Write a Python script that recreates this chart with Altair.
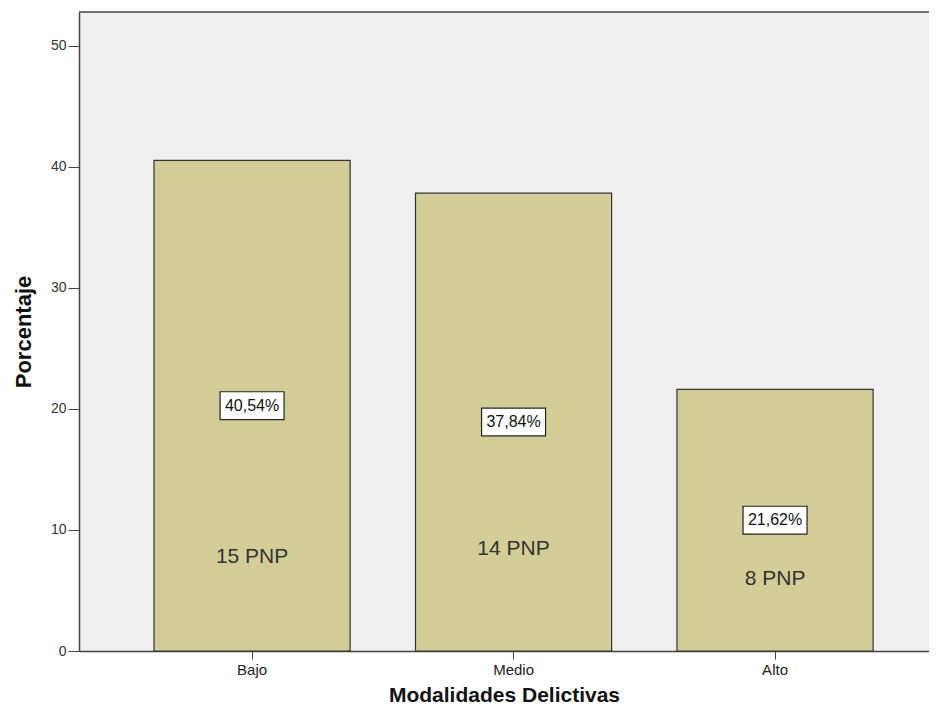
import altair as alt
import pandas as pd

categories = ["Bajo", "Medio", "Alto"]
percentages = [40.54, 37.84, 21.62]
pct_labels = ["40,54%", "37,84%", "21,62%"]
pnp_labels = ["15 PNP", "14 PNP", "8 PNP"]
pnp_label_y = [7.8, 8.4, 5.95]
y_ticks = [0, 10, 20, 30, 40, 50]

df = pd.DataFrame({
    "cat": categories,
    "pct": percentages,
    "pct_label": pct_labels,
    "pnp": pnp_labels,
    "pnp_y": pnp_label_y,
})
df["mid"] = df["pct"] / 2
df["box_lo"] = df["mid"] - 1.15
df["box_hi"] = df["mid"] + 1.15

FONT = "Liberation Sans"
W = 850
H = 639

x_enc = alt.X(
    "cat:N",
    sort=categories,
    title="Modalidades Delictivas",
    scale=alt.Scale(paddingInner=0.25, paddingOuter=0.2503, align=0.573),
    axis=alt.Axis(
        labelAngle=0, labelFont=FONT, labelFontSize=15, labelColor="#222",
        titleFont=FONT, titleFontSize=21, titleFontWeight="bold", titleColor="#111",
        titlePadding=7, domainColor="#444", domainWidth=1.5, tickColor="#444",
        tickSize=8, labelPadding=3,
    ),
)
y_scale = alt.Scale(domain=[0, 52.8], nice=False, zero=True)

base = alt.Chart(df)

bars = base.mark_bar(fill="#D3CE97", stroke="#333", strokeWidth=1.2).encode(
    x=x_enc,
    y=alt.Y(
        "pct:Q",
        scale=y_scale,
        title="Porcentaje",
        axis=alt.Axis(
            values=y_ticks, grid=False, labelFont=FONT, labelFontSize=14,
            labelColor="#333", titleFont=FONT, titleFontSize=22,
            titleFontWeight="bold", titleColor="#111", titlePadding=15,
            domainColor="#444", domainWidth=1.5, tickColor="#444", tickSize=11,
            labelPadding=2,
        ),
    ),
)

boxes = base.mark_bar(width=64, fill="white", stroke="#222", strokeWidth=1.2).encode(
    x=alt.X("cat:N", sort=categories),
    y=alt.Y("box_lo:Q", scale=y_scale),
    y2="box_hi:Q",
)

pct_text = base.mark_text(font=FONT, fontSize=16, color="#111").encode(
    x=alt.X("cat:N", sort=categories),
    y=alt.Y("mid:Q", scale=y_scale),
    text="pct_label:N",
)

pnp_text = base.mark_text(font=FONT, fontSize=21, color="#333").encode(
    x=alt.X("cat:N", sort=categories),
    y=alt.Y("pnp_y:Q", scale=y_scale),
    text="pnp:N",
)

top_line = alt.Chart(pd.DataFrame({"a": [0]})).mark_rule(color="#444", strokeWidth=1.5).encode(
    x=alt.value(0), x2=alt.value(W), y=alt.value(0)
)

chart = alt.layer(bars, boxes, pct_text, pnp_text, top_line).properties(
    width=W, height=H,
    background="white",
    autosize=alt.AutoSizeParams(type="none"),
    padding={"left": 71, "top": 4, "right": 0, "bottom": 58},
).configure_view(fill="#F0F0F0", strokeWidth=0)

chart.save("out.html", embed_options={"renderer": "svg", "actions": False})
